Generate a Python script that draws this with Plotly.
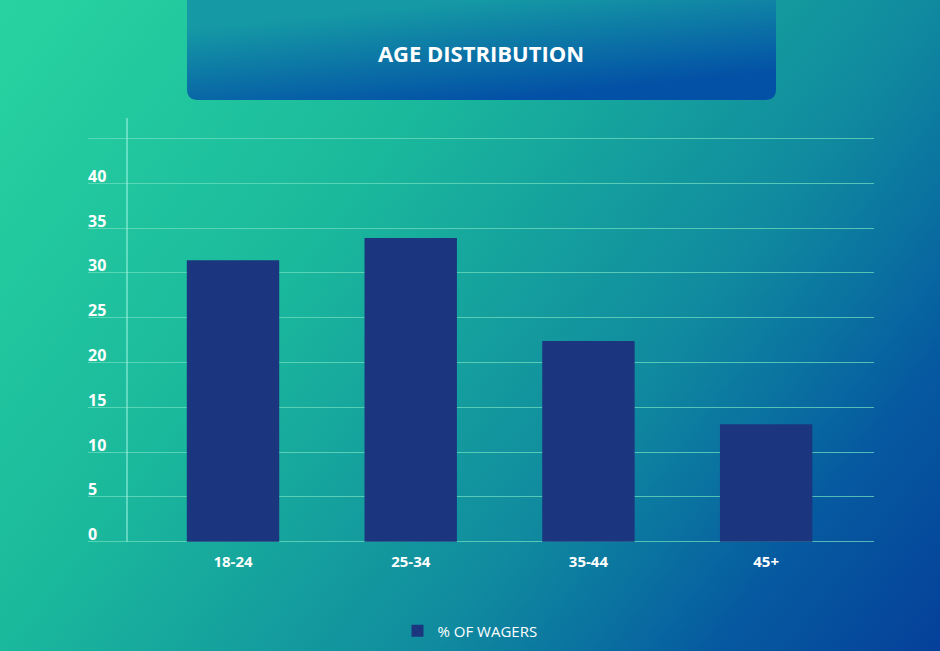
import base64
import plotly.graph_objects as go

# data
age_groups = ["18-24", "25-34", "35-44", "45+"]
pct_wagers = [31.4, 33.9, 22.4, 13.1]
y_ticks = [0, 5, 10, 15, 20, 25, 30, 35, 40, 45]
y_tick_text = ["0", "5", "10", "15", "20", "25", "30", "35", "40", ""]

W, H = 940, 651
ML, MR, MT, MB = 88, 66, 118, 104
PW, PH = W - ML - MR, H - MT - MB
PX_PER_UNIT = 8.96
ZERO_PX = 541.7  # pixel row of the 0 gridline
Y_MIN = -(H - MB - ZERO_PX) / PX_PER_UNIT
Y_MAX = (ZERO_PX - MT) / PX_PER_UNIT

### background: diagonal gradient + rounded title banner ###
bg_svg = f"""<svg xmlns="http://www.w3.org/2000/svg" width="{W}" height="{H}" viewBox="0 0 {W} {H}">
<defs>
<linearGradient id="bg" gradientUnits="userSpaceOnUse" x1="0" y1="0" x2="905" y2="696">
<stop offset="0" stop-color="#28d4a0"/>
<stop offset="0.35" stop-color="#1ab89c"/>
<stop offset="0.65" stop-color="#108a9f"/>
<stop offset="0.75" stop-color="#0a72a0"/>
<stop offset="0.84" stop-color="#065aa0"/>
<stop offset="1" stop-color="#05409a"/>
</linearGradient>
<linearGradient id="hd" gradientUnits="userSpaceOnUse" x1="480" y1="0" x2="490" y2="100">
<stop offset="0" stop-color="#1599a5"/>
<stop offset="1" stop-color="#0351a6"/>
</linearGradient>
</defs>
<rect x="0" y="0" width="{W}" height="{H}" fill="url(#bg)"/>
<path d="M187,0 H776 V89 Q776,100 765,100 H198 Q187,100 187,89 Z" fill="url(#hd)"/>
</svg>"""
bg_uri = "data:image/svg+xml;base64," + base64.b64encode(bg_svg.encode()).decode()

fig = go.Figure(
    go.Bar(
        x=age_groups,
        y=pct_wagers,
        name="% OF WAGERS",
        width=0.52,
        marker=dict(color="#1b367f", line=dict(width=0)),
        showlegend=True,
    )
)

fig.add_layout_image(
    source=bg_uri,
    xref="paper", yref="paper",
    x=-ML / PW, y=1 + MT / PH,
    sizex=W / PW, sizey=H / PH,
    xanchor="left", yanchor="top",
    sizing="stretch",
    layer="below",
)

# light vertical axis line, from the baseline to the top
fig.add_shape(
    type="line",
    xref="paper", yref="y",
    x0=(127 - ML) / PW, x1=(127 - ML) / PW,
    y0=0, y1=Y_MAX,
    line=dict(color="#a6f7e6", width=1),
)

fig.update_layout(
    width=W,
    height=H,
    margin=dict(l=ML, r=MR, t=MT, b=MB, pad=0),
    paper_bgcolor="rgba(0,0,0,0)",
    plot_bgcolor="rgba(0,0,0,0)",
    title=dict(
        text="AGE DISTRIBUTION",
        x=481 / W, y=1 - 54 / H,
        xanchor="center", yanchor="middle",
        font=dict(family="Open Sans", size=22, color="white", weight="bold"),
    ),
    xaxis=dict(
        range=[-0.816, 3.607],
        showgrid=False,
        showline=False,
        zeroline=False,
        ticks="",
        ticklabelstandoff=4,
        tickfont=dict(family="Open Sans", size=15, color="white", weight="bold"),
    ),
    yaxis=dict(
        range=[Y_MIN, Y_MAX],
        tickvals=y_ticks,
        ticktext=y_tick_text,
        ticklabelposition="inside top",
        ticklabelstandoff=-3,
        ticklabelshift=4,
        showgrid=True,
        gridcolor="rgba(110,220,190,0.75)",
        gridwidth=1,
        zeroline=True,
        zerolinecolor="rgba(110,220,190,0.75)",
        zerolinewidth=1,
        showline=False,
        ticks="",
        tickfont=dict(family="Open Sans", size=16, color="white", weight="bold"),
    ),
    legend=dict(
        orientation="h",
        x=(470 - ML) / PW, xanchor="center",
        yref="container", y=1 - 631 / H, yanchor="middle",
        font=dict(family="Open Sans", size=15, color="white"),
        bgcolor="rgba(0,0,0,0)",
    ),
)

fig.write_html(
    "out.html",
    config={"displayModeBar": False},
    post_script="document.body.style.margin='0';",
)
